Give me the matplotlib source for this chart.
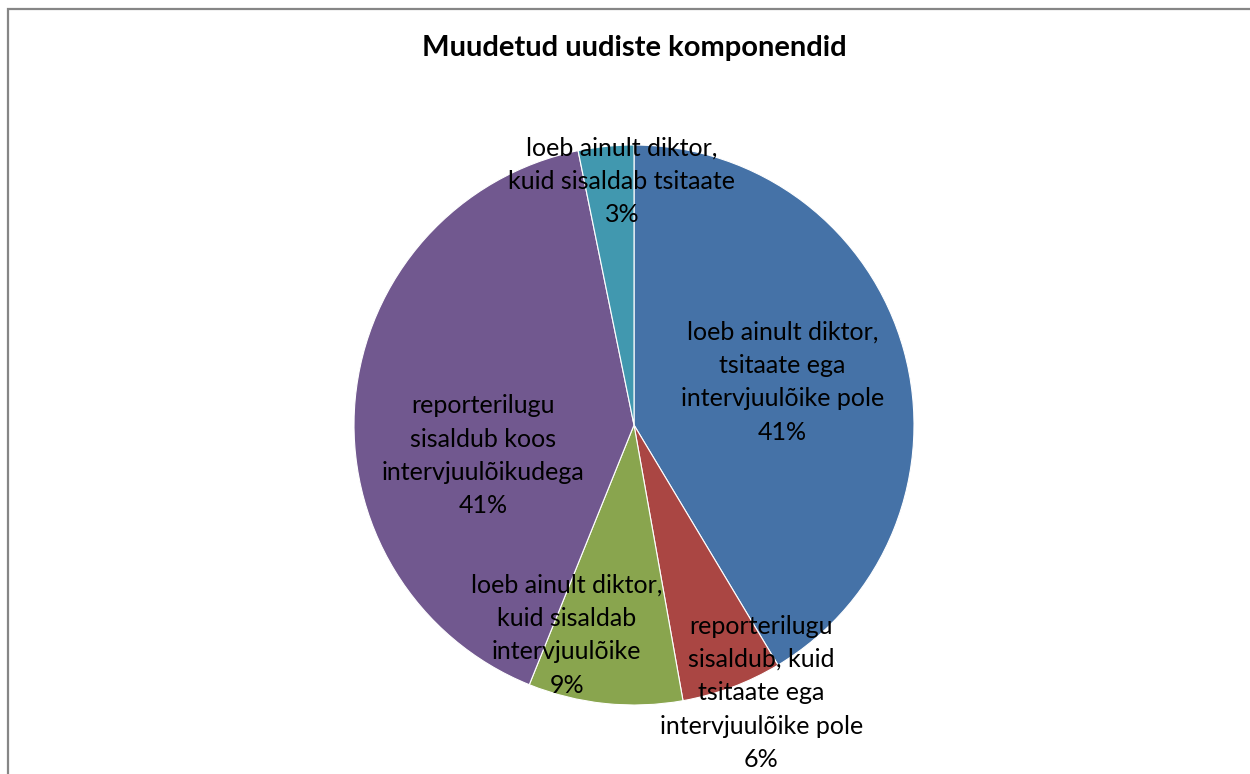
import matplotlib
matplotlib.use("Agg")
import matplotlib.pyplot as plt
from matplotlib.patches import Rectangle

# slice shares (%), clockwise from 12 o'clock
categories = [
    "loeb ainult diktor,\ntsitaate ega\nintervjuulõike pole",
    "reporterilugu\nsisaldub, kuid\ntsitaate ega\nintervjuulõike pole",
    "loeb ainult diktor,\nkuid sisaldab\nintervjuulõike",
    "reporterilugu\nsisaldub koos\nintervjuulõikudega",
    "loeb ainult diktor,\nkuid sisaldab tsitaate",
]
shares = [41.4, 5.8, 8.9, 40.7, 3.2]
colors = ["#4572A7", "#AA4643", "#89A54E", "#71588F", "#4198AF"]

# label anchor points in units of the pie radius
label_pos = [(0.53, 0.154), (0.455, -0.957), (-0.24, -0.75), (-0.54, -0.11), (-0.043, 0.87)]

plt.rcParams["font.family"] = ["Lato", "DejaVu Sans"]

W, H = 1250, 774
fig = plt.figure(figsize=(12.5, 7.74), dpi=100)

# chart frame (only left and top edges visible)
fig.patches.append(Rectangle((8 / W, -0.1), 1.2, 1 - 9 / H + 0.1, transform=fig.transFigure,
                             fill=False, edgecolor="#868686", linewidth=1.6))

cx, cy, r = 634, 425, 280
ax = fig.add_axes([(cx - r) / W, (H - cy - r) / H, 2 * r / W, 2 * r / H])
wedges, _ = ax.pie(shares, colors=colors, startangle=90, counterclock=False, radius=1,
                   wedgeprops=dict(edgecolor="white", linewidth=0.8))
ax.set_xlim(-1, 1)
ax.set_ylim(-1, 1)
ax.axis("off")

total = sum(shares)
for name, val, (x, y) in zip(categories, shares, label_pos):
    ax.text(x, y, f"{name}\n{round(val / total * 100):.0f}%", ha="center", va="center",
            fontsize=18, linespacing=1.55, color="black")

fig.text(cx / W, 1 - 48 / H, "Muudetud uudiste komponendid", ha="center", va="center",
         fontsize=21, fontweight="bold")

fig.savefig("out.png", dpi=100)
